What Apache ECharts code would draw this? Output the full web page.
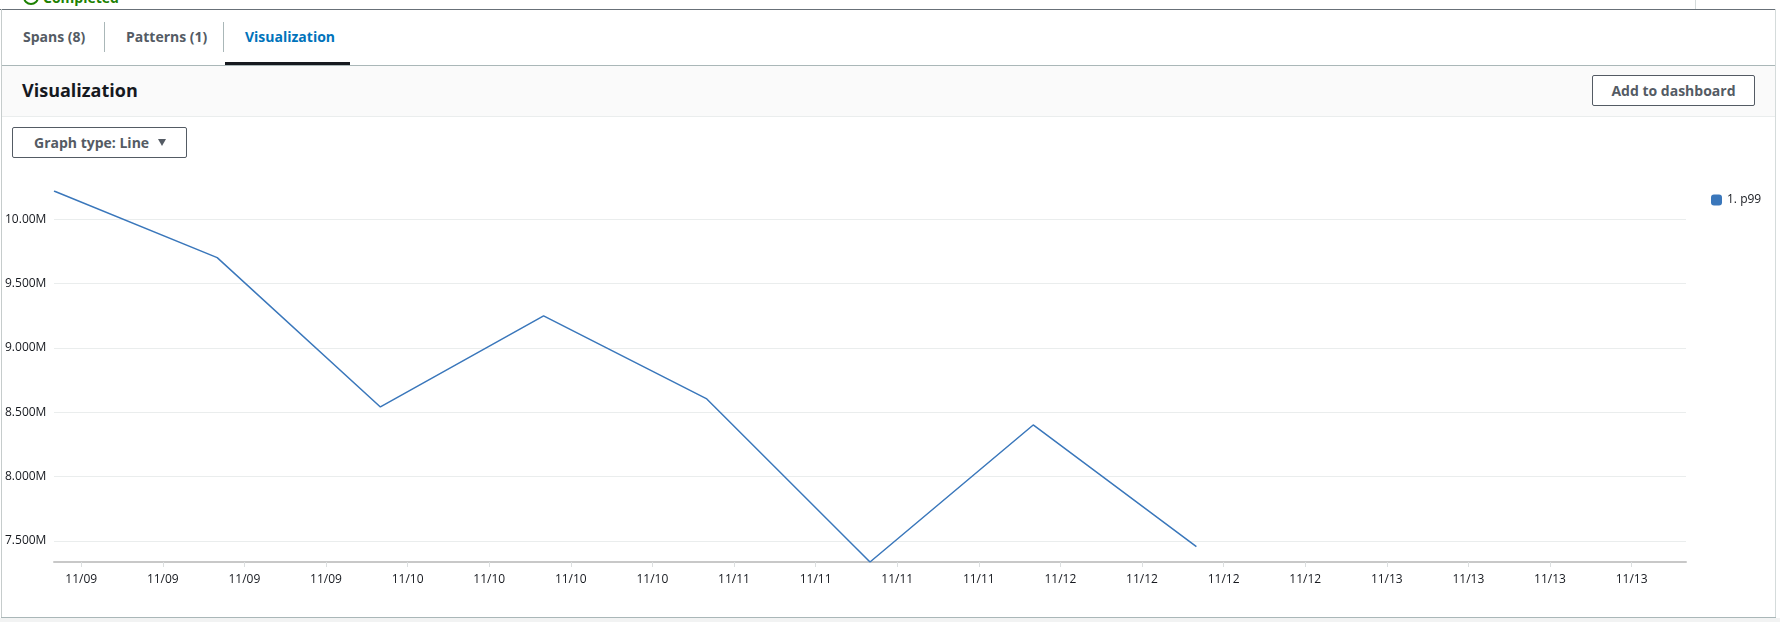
<!DOCTYPE html>
<html>
<head>
<meta charset="utf-8">
<script src="https://cdn.jsdelivr.net/npm/echarts@6/dist/echarts.min.js"></script>
<style>
  html, body { margin:0; padding:0; }
  body { width:1780px; height:622px; overflow:hidden; position:relative; background:#ffffff; font-family:"Open Sans", "Noto Sans", sans-serif; }
  .abs { position:absolute; }
  .tab { position:absolute; top:26px; height:22px; line-height:22px; font-size:14px; font-weight:700; color:#545b64; white-space:nowrap; }
  .btn { position:absolute; box-sizing:border-box; border:1px solid #545b64; border-radius:2px; background:#fff; font-size:14px; font-weight:700; color:#545b64; white-space:nowrap; }
  #chart { position:absolute; left:0; top:0; width:1780px; height:622px; }
</style>
</head>
<body>
  <!-- top status (clipped) -->
  <div class="abs" style="left:23px; top:-11px; width:12px; height:12px; border:2px solid #1d8102; border-radius:50%;"></div>
  <div class="abs" style="left:43px; top:-11px; font-size:14px; line-height:18px; font-weight:700; color:#1d8102;">Completed</div>
  <div class="abs" style="left:0; top:9px; width:1776px; height:1px; background:#687078;"></div>
  <div class="abs" style="left:1695px; top:0; width:1px; height:9px; background:#d5dbdb;"></div>

  <!-- panel borders -->
  <div class="abs" style="left:1px; top:9px; width:1px; height:608px; background:#c6cccc;"></div>
  <div class="abs" style="left:1775px; top:9px; width:1px; height:608px; background:#d5dbdb;"></div>
  <div class="abs" style="left:1px; top:617px; width:1775px; height:1px; background:#aab7b8;"></div>
  <div class="abs" style="left:0; top:618px; width:1780px; height:4px; background:#f2f3f3;"></div>

  <!-- tabs -->
  <div class="tab" style="left:23px;">Spans (8)</div>
  <div class="abs" style="left:104px; top:22px; width:1px; height:30px; background:#aab7b8;"></div>
  <div class="tab" style="left:126px;">Patterns (1)</div>
  <div class="abs" style="left:223px; top:22px; width:1px; height:30px; background:#aab7b8;"></div>
  <div class="tab" style="left:245px; color:#0073bb;">Visualization</div>
  <div class="abs" style="left:225px; top:62px; width:125px; height:3px; background:#16191f;"></div>
  <div class="abs" style="left:2px; top:65px; width:1773px; height:1px; background:#aab7b8;"></div>

  <!-- header -->
  <div class="abs" style="left:2px; top:66px; width:1773px; height:50px; background:#fafafa;"></div>
  <div class="abs" style="left:2px; top:116px; width:1773px; height:1px; background:#eaeded;"></div>
  <div class="abs" style="left:22px; top:77px; font-size:18px; line-height:26px; font-weight:700; color:#16191f;">Visualization</div>
  <div class="btn" style="left:1592px; top:75px; width:163px; height:31px; line-height:29px; text-align:center;">Add to dashboard</div>

  <!-- graph type -->
  <div class="btn" style="left:12px; top:127px; width:175px; height:31px; line-height:29px; padding-left:21px;">Graph type: Line</div>
  <div class="abs" style="left:158px; top:139px; width:0; height:0; border-left:4.5px solid transparent; border-right:4.5px solid transparent; border-top:7px solid #545b64;"></div>

  <div id="chart"></div>

<script>
  // ---- data ----
  const seriesName = '1. p99';
  const times = [
    '2023-11-08T22:00', '2023-11-09T10:00', '2023-11-09T22:00', '2023-11-10T10:00',
    '2023-11-10T22:00', '2023-11-11T10:00', '2023-11-11T22:00', '2023-11-12T10:00'
  ];
  const p99Values = [10220000, 9702000, 8542000, 9249000, 8604000, 7337000, 8402000, 7456000];
  const xRange = ['2023-11-08T22:00', '2023-11-13T22:00'];

  const toTs = s => new Date(s).getTime();
  const pad = n => (n < 10 ? '0' : '') + n;

  const chart = echarts.init(document.getElementById('chart'), null, { renderer: 'canvas' });
  const option = {
    animation: false,
    backgroundColor: 'transparent',
    textStyle: { fontFamily: '"Open Sans", "Noto Sans", sans-serif' },
    grid: { left: 54, top: 191, width: 1632, height: 371, containLabel: false },
    legend: {
      data: [seriesName],
      left: 1706, top: 189,
      itemWidth: 11, itemHeight: 11,
      icon: 'path://M3,0 L8,0 Q11,0 11,3 L11,8 Q11,11 8,11 L3,11 Q0,11 0,8 L0,3 Q0,0 3,0 Z',
      textStyle: { fontSize: 12, color: '#16191f' }
    },
    xAxis: {
      type: 'time',
      min: toTs(xRange[0]),
      max: toTs(xRange[1]),
      splitNumber: 19,
      axisLine: { lineStyle: { color: '#c8c8c8', width: 2 } },
      axisTick: { show: true, length: 5, lineStyle: { color: '#dcdfe0' } },
      splitLine: { show: false },
      axisLabel: {
        margin: 12, fontSize: 12, color: '#16191f', showMinLabel: false, showMaxLabel: false,
        formatter: function (v) { const d = new Date(v); return pad(d.getMonth() + 1) + '/' + pad(d.getDate()); }
      }
    },
    yAxis: {
      type: 'value',
      min: 'dataMin', max: 'dataMax',
      splitNumber: 5, minInterval: 500000, maxInterval: 500000,
      axisLine: { show: false },
      axisTick: { show: false },
      splitLine: { show: true, showMinLine: false, showMaxLine: false, lineStyle: { color: '#eaeded', width: 1 } },
      axisLabel: {
        showMinLabel: false, showMaxLabel: false,
        align: 'left', margin: 49, fontSize: 12, color: '#16191f',
        formatter: function (v) { return (v / 1e6).toPrecision(4) + 'M'; }
      }
    },
    series: [{
      name: seriesName,
      type: 'line',
      data: times.map((t, i) => [toTs(t), p99Values[i]]),
      showSymbol: false,
      symbol: 'none',
      itemStyle: { color: '#3a77bb' },
      lineStyle: { color: '#3a77bb', width: 1.5 }
    }]
  };
  chart.setOption(option);
</script>
</body>
</html>
